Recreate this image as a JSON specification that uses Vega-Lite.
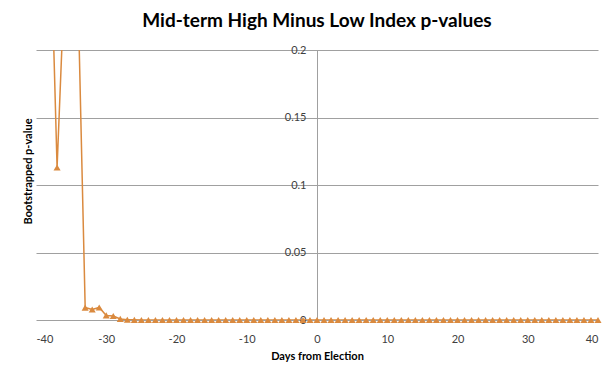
{
  "$schema": "https://vega.github.io/schema/vega-lite/v6.json",
  "width": 562,
  "height": 270,
  "autosize": {"type": "none"},
  "padding": {"left": 36, "top": 50, "right": 10, "bottom": 52},
  "background": "white",
  "title": {
    "text": "Mid-term High Minus Low Index p-values",
    "font": "Lato",
    "fontSize": 19,
    "fontWeight": "bold",
    "color": "#000000",
    "anchor": "middle",
    "offset": 13
  },
  "config": {
    "view": {"stroke": null},
    "axis": {"labelFont": "Lato", "titleFont": "Lato", "labelColor": "#404040", "titleColor": "#000000"}
  },
  "data": {
    "values": [
      {"day": -38, "p": 0.302},
      {"day": -37, "p": 0.113},
      {"day": -36, "p": 0.243},
      {"day": -35, "p": 0.3},
      {"day": -34, "p": 0.236},
      {"day": -33, "p": 0.0092},
      {"day": -32, "p": 0.0078},
      {"day": -31, "p": 0.0093},
      {"day": -30, "p": 0.0034},
      {"day": -29, "p": 0.003},
      {"day": -28, "p": 0.0008},
      {"day": -27, "p": 0.0002},
      {"day": -26, "p": 0.0001},
      {"day": -25, "p": 0},
      {"day": -24, "p": 0},
      {"day": -23, "p": 0},
      {"day": -22, "p": 0},
      {"day": -21, "p": 0},
      {"day": -20, "p": 0},
      {"day": -19, "p": 0},
      {"day": -18, "p": 0},
      {"day": -17, "p": 0},
      {"day": -16, "p": 0},
      {"day": -15, "p": 0},
      {"day": -14, "p": 0},
      {"day": -13, "p": 0},
      {"day": -12, "p": 0},
      {"day": -11, "p": 0},
      {"day": -10, "p": 0},
      {"day": -9, "p": 0},
      {"day": -8, "p": 0},
      {"day": -7, "p": 0},
      {"day": -6, "p": 0},
      {"day": -5, "p": 0},
      {"day": -4, "p": 0},
      {"day": -3, "p": 0},
      {"day": -2, "p": 0},
      {"day": -1, "p": 0},
      {"day": 0, "p": 0},
      {"day": 1, "p": 0},
      {"day": 2, "p": 0},
      {"day": 3, "p": 0},
      {"day": 4, "p": 0},
      {"day": 5, "p": 0},
      {"day": 6, "p": 0},
      {"day": 7, "p": 0},
      {"day": 8, "p": 0},
      {"day": 9, "p": 0},
      {"day": 10, "p": 0},
      {"day": 11, "p": 0},
      {"day": 12, "p": 0},
      {"day": 13, "p": 0},
      {"day": 14, "p": 0},
      {"day": 15, "p": 0},
      {"day": 16, "p": 0},
      {"day": 17, "p": 0},
      {"day": 18, "p": 0},
      {"day": 19, "p": 0},
      {"day": 20, "p": 0},
      {"day": 21, "p": 0},
      {"day": 22, "p": 0},
      {"day": 23, "p": 0},
      {"day": 24, "p": 0},
      {"day": 25, "p": 0},
      {"day": 26, "p": 0},
      {"day": 27, "p": 0},
      {"day": 28, "p": 0},
      {"day": 29, "p": 0},
      {"day": 30, "p": 0},
      {"day": 31, "p": 0},
      {"day": 32, "p": 0},
      {"day": 33, "p": 0},
      {"day": 34, "p": 0},
      {"day": 35, "p": 0},
      {"day": 36, "p": 0},
      {"day": 37, "p": 0},
      {"day": 38, "p": 0},
      {"day": 39, "p": 0},
      {"day": 40, "p": 0}
    ]
  },
  "layer": [
    {
      "mark": {"type": "line", "clip": true, "color": "#DA8A3F", "strokeWidth": 1.5},
      "encoding": {
        "x": {
          "field": "day",
          "type": "quantitative",
          "scale": {"domain": [-40, 40], "nice": false},
          "axis": {
            "values": [-40, -30, -20, -10, 0, 10, 20, 30, 40],
            "labelExpr": "datum.value + ''",
            "grid": false,
            "domain": false,
            "ticks": false,
            "labelPadding": 13,
            "labelFontSize": 11,
            "title": "Days from Election",
            "titleFontSize": 11,
            "titleFontWeight": "bold",
            "titlePadding": 6
          }
        },
        "y": {
          "field": "p",
          "type": "quantitative",
          "scale": {"domain": [0, 0.2], "nice": false, "zero": true},
          "axis": {
            "values": [0, 0.05, 0.1, 0.15, 0.2],
            "format": "~g",
            "offset": -281,
            "grid": true,
            "gridColor": "#a0a0a0",
            "gridOpacity": 1,
            "domain": true,
            "domainColor": "#a0a0a0",
            "ticks": false,
            "labelPadding": 11,
            "labelFontSize": 11,
            "title": "Bootstrapped p-value",
            "titleFontSize": 11,
            "titleFontWeight": "bold",
            "titleAngle": -90,
            "titleBaseline": "middle",
            "titleAlign": "center",
            "titleX": -289,
            "titleY": 121
          }
        }
      }
    },
    {
      "transform": [{"filter": "datum.p <= 0.2"}],
      "mark": {"type": "point", "shape": "triangle-up", "size": 50, "filled": true, "color": "#DA8A3F", "opacity": 1},
      "encoding": {
        "x": {"field": "day", "type": "quantitative"},
        "y": {"field": "p", "type": "quantitative"}
      }
    }
  ]
}
